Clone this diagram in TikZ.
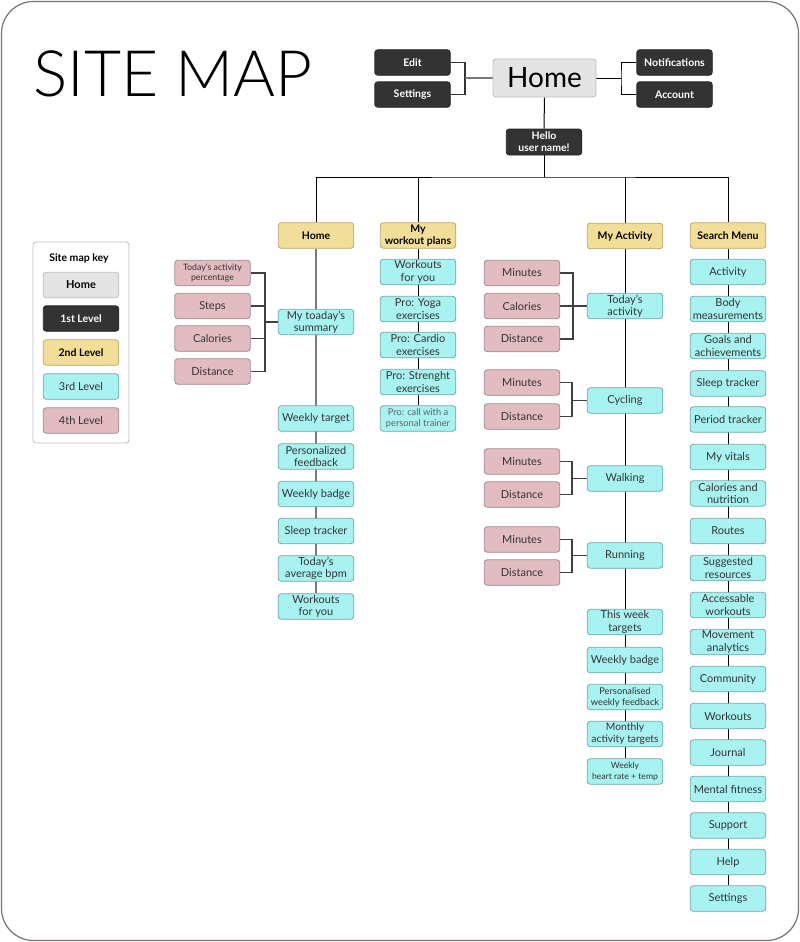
\documentclass[tikz,border=0pt]{standalone}
\usepackage{fontspec}
\setmainfont{Lato}
\IfFontExistsTF{Lato Light}{\newfontfamily\titlefont{Lato Light}}{\newfontfamily\titlefont{Lato}}
\usetikzlibrary{backgrounds}
\definecolor{c0}{HTML}{E4E4E4}
\definecolor{c0d}{HTML}{BDBDBD}
\definecolor{c1}{HTML}{333333}
\definecolor{c1d}{HTML}{262626}
\definecolor{c2}{HTML}{F3DE99}
\definecolor{c2d}{HTML}{B9A46A}
\definecolor{c3}{HTML}{A9F2F2}
\definecolor{c3d}{HTML}{6FA8A8}
\definecolor{c4}{HTML}{E3BCC2}
\definecolor{c4d}{HTML}{9E8A8D}
\definecolor{txt}{HTML}{333333}
\definecolor{framec}{HTML}{7D7272}
\definecolor{keyc}{HTML}{BBBBBB}
\definecolor{glin}{HTML}{7A7A7A}
\begin{document}
\begin{tikzpicture}[x=1pt,y=-1pt,
  box/.style={rounded corners=3pt, minimum width=75.5pt, minimum height=25.5pt, inner sep=1pt, align=center, line width=0.8pt},
  l0/.style={box, fill=c0, draw=c0d, text=black, font=\bfseries\fontsize{11}{12.5}\selectfont},
  l1/.style={box, fill=c1, draw=c1d, text=white, font=\bfseries\fontsize{10.5}{12}\selectfont},
  l2/.style={box, fill=c2, draw=c2d, text=black, font=\bfseries\fontsize{10.5}{12}\selectfont},
  l3/.style={box, fill=c3, draw=c3d, text=txt, font=\fontsize{11}{12.5}\selectfont},
  l4/.style={box, fill=c4, draw=c4d, text=txt, font=\fontsize{11}{12.5}\selectfont},
  small/.style={font=\fontsize{9.3}{11}\selectfont},
  conn/.style={draw=black, line width=1pt},
  gconn/.style={draw=glin, line width=2pt},
  mconn/.style={draw=#1, line width=1.2pt},
]
\useasboundingbox (0,0) rectangle (800,942);
\draw[rounded corners=32pt, draw=framec, line width=1.2pt] (1.5,1.5) rectangle (798.5,940.5);

% title
\node[anchor=base west, inner sep=0, font=\titlefont\fontsize{64}{64}\selectfont] (title) at (33,96) {SITE MAP};

% top
\node[l0, minimum width=103pt, minimum height=38pt, font=\fontsize{28}{28}\selectfont] (home) at (544.5,78) {Home};
\node[l1] (edit) at (412.5,62.5) {Edit};
\node[l1] (sett) at (412.5,94.5) {Settings};
\node[l1] (notif) at (674.5,62.5) {Notifications};
\node[l1] (acct) at (674.5,94.5) {Account};
\node[l1, minimum height=26pt, font=\bfseries\fontsize{10.5}{12}\selectfont] (hello) at (544,142) {Hello\\user name!};
\coordinate (jl) at (465,78);
\coordinate (jr) at (621,78);
\coordinate (bus) at (544,177);

% level 2
\node[l2] (h2) at (316,235.5) {Home};
\node[l2] (w2) at (418,235.5) {My\\workout plans};
\node[l2] (a2) at (625,236) {My Activity};
\node[l2] (s2) at (728,235.5) {Search Menu};

% Home column
\node[l3] (hsum) at (316,322) {My toaday's\\summary};
\node[l3] (hw1) at (316,418.5) {Weekly target};
\node[l3] (hw2) at (316,456.5) {Personalized\\feedback};
\node[l3] (hw3) at (316,494) {Weekly badge};
\node[l3] (hw4) at (316,531) {Sleep tracker};
\node[l3] (hw5) at (316,568.5) {Today's\\average bpm};
\node[l3] (hw6) at (316,606.5) {Workouts\\for you};
\node[l4, font=\fontsize{8.8}{10.5}\selectfont] (hp1) at (212.5,273) {Today's activity\\percentage};
\node[l4] (hp2) at (212.5,306) {Steps};
\node[l4] (hp3) at (212.5,338.5) {Calories};
\node[l4] (hp4) at (212.5,371.5) {Distance};
\coordinate (hj) at (265,322);

% Workout column
\node[l3] (wp1) at (418,272) {Workouts\\for you};
\node[l3] (wp2) at (418,309) {Pro: Yoga\\exercises};
\node[l3] (wp3) at (418,345) {Pro: Cardio\\exercises};
\node[l3] (wp4) at (418,382) {Pro: Strenght\\exercises};
\node[l3, small, text=black!62] (wp5) at (418,418.5) {Pro: call with a\\personal trainer};

% Activity column
\node[l3] (at) at (625,306) {Today's\\activity};
\node[l4] (atm) at (522,273) {Minutes};
\node[l4] (atc) at (522,306) {Calories};
\node[l4] (atd) at (522,339) {Distance};
\coordinate (atj) at (573,306);
\node[l3] (cy) at (625,400.5) {Cycling};
\node[l4] (cym) at (522,382.5) {Minutes};
\node[l4] (cyd) at (522,416.5) {Distance};
\coordinate (cyj) at (572,400.5);
\node[l3] (wk) at (625,478.5) {Walking};
\node[l4] (wkm) at (522,461.5) {Minutes};
\node[l4] (wkd) at (522,494.5) {Distance};
\coordinate (wkj) at (572,478.5);
\node[l3] (rn) at (625,555.5) {Running};
\node[l4] (rnm) at (522,539.5) {Minutes};
\node[l4] (rnd) at (522,572.5) {Distance};
\coordinate (rnj) at (572,555.5);
\node[l3] (aw1) at (625,622) {This week\\targets};
\node[l3] (aw2) at (625,660) {Weekly badge};
\node[l3, small] (aw3) at (625,697) {Personalised\\weekly feedback};
\node[l3, font=\fontsize{10.3}{12}\selectfont] (aw4) at (625,734) {Monthly\\activity targets};
\node[l3, font=\fontsize{8.6}{10.5}\selectfont] (aw5) at (625,771.5) {Weekly\\heart rate + temp};

% Search column
\node[l3] (s1) at (728,272) {Activity};
\node[l3] (s2a) at (728,309) {Body\\measurements};
\node[l3] (s3) at (728,346) {Goals and\\achievements};
\node[l3] (s4) at (728,383.5) {Sleep tracker};
\node[l3] (s5) at (728,419.5) {Period tracker};
\node[l3] (s6) at (728,457) {My vitals};
\node[l3] (s7) at (728,493.5) {Calories and\\nutrition};
\node[l3] (s8) at (728,531) {Routes};
\node[l3] (s9) at (728,568) {Suggested\\resources};
\node[l3] (s10) at (728,605) {Accessable\\workouts};
\node[l3] (s11) at (728,642) {Movement\\analytics};
\node[l3] (s12) at (728,679) {Community};
\node[l3] (s13) at (728,716) {Workouts};
\node[l3] (s14) at (728,752.5) {Journal};
\node[l3] (s15) at (728,789) {Mental fitness};
\node[l3] (s16) at (728,825.5) {Support};
\node[l3] (s17) at (728,862) {Help};
\node[l3] (s18) at (728,898.5) {Settings};

% key
\node[draw=keyc, rounded corners=3pt, line width=0.8pt, minimum width=96pt, minimum height=201pt, inner sep=0] (key) at (81,342.5) {};
\node[font=\bfseries\fontsize{10.5}{12}\selectfont, text=black] (keyt) at (79,258) {Site map key};
\node[l0] (k0) at (81,285) {Home};
\node[l1] (k1) at (81,318.5) {1st Level};
\node[l2] (k2) at (81,352.5) {2nd Level};
\node[l3] (k3) at (81,386.5) {3rd Level};
\node[l4] (k4) at (81,420.5) {4th Level};

\begin{scope}[on background layer]
  % top connectors
  \draw[mconn=black!80] (edit.east) -| (jl) |- (sett.east);
  \draw[mconn=glin] (jl) -- (home.west);
  \draw[conn] (notif.west) -| (jr) |- (acct.west);
  \draw[conn] (home.east) -- (jr);
  \draw[conn] (home.south) -- (hello.north);
  \draw[conn] (hello.south) -- (bus);
  \draw[conn] (h2.north) |- (bus) -| (s2.north);
  \draw[conn] (w2.north) -- (w2.north |- bus);
  \draw[conn] (a2.north) -- (a2.north |- bus);
  % columns
  \draw[gconn] (h2.south) -- (hw6.north);
  \draw[conn] (w2.south) -- (wp5.north);
  \draw[conn] (a2.south) -- (aw5.north);
  \draw[conn] (s2.south) -- (s18.north);
  % home brackets
  \draw[mconn=black!75] (hp1.east) -| (hj) |- (hp4.east);
  \draw[mconn=black!75] (hp2.east) -- (hp2.east -| hj);
  \draw[mconn=black!75] (hp3.east) -- (hp3.east -| hj);
  \draw[mconn=black!75] (hj) -- (hsum.west);
  % activity brackets
  \draw[mconn=black!75] (atm.east) -| (atj) |- (atd.east);
  \draw[mconn=black!75] (atc.east) -- (at.west);
  \draw[mconn=black!75] (cym.east) -| (cyj) |- (cyd.east);
  \draw[mconn=black!75] (cyj) -- (cy.west);
  \draw[mconn=black!75] (wkm.east) -| (wkj) |- (wkd.east);
  \draw[mconn=black!75] (wkj) -- (wk.west);
  \draw[mconn=black!75] (rnm.east) -| (rnj) |- (rnd.east);
  \draw[mconn=black!75] (rnj) -- (rn.west);
\end{scope}
\end{tikzpicture}
\end{document}
